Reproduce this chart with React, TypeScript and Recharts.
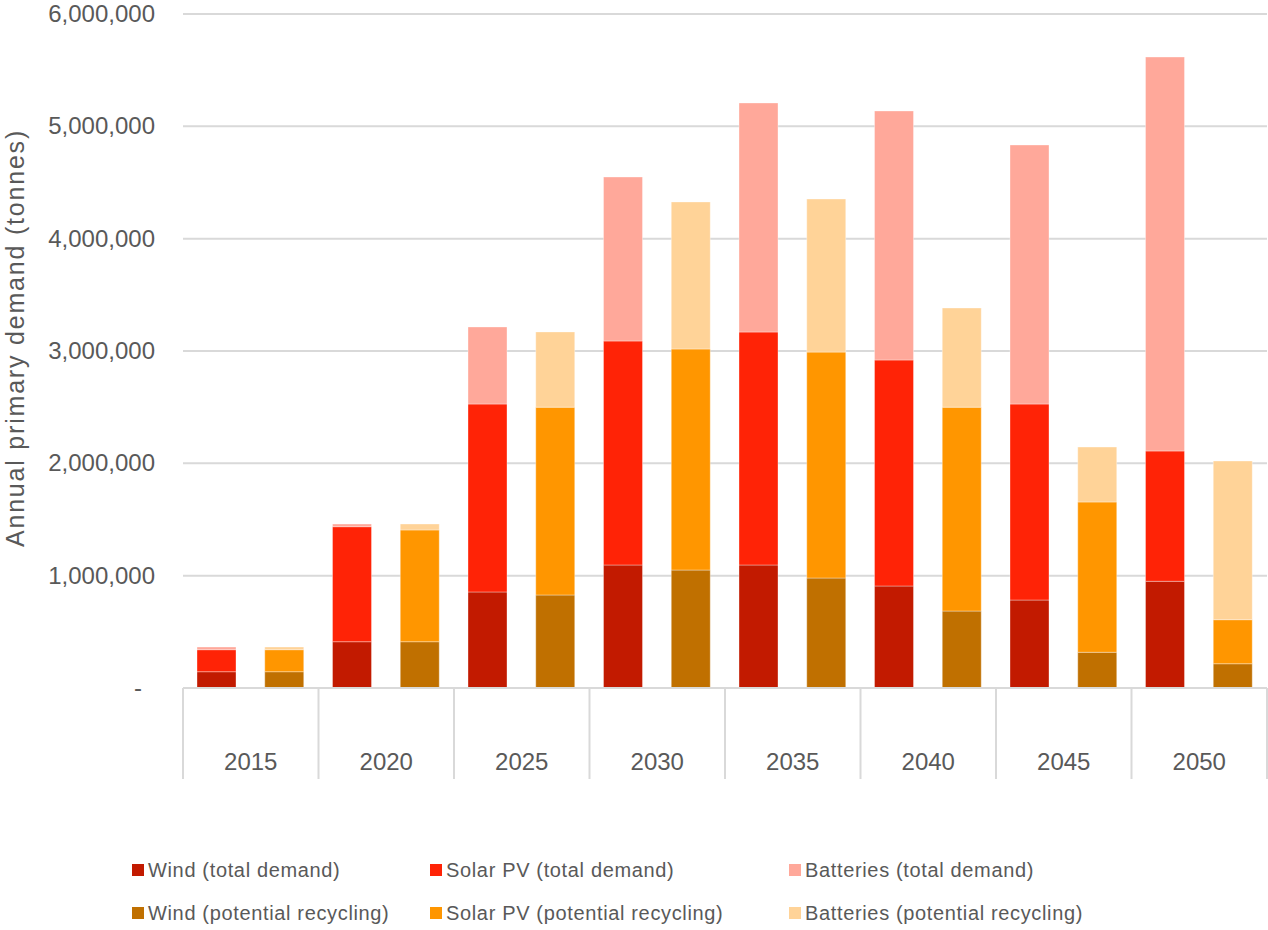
import React from 'react';
import { BarChart, Bar, XAxis, YAxis, CartesianGrid, Legend } from 'recharts';

const years = ['2015', '2020', '2025', '2030', '2035', '2040', '2045', '2050'];

// total demand (tonnes)
const windTotal = [145000, 412000, 855000, 1095000, 1095000, 908000, 783000, 950000];
const solarTotal = [196000, 1024000, 1673000, 1994000, 2074000, 2012000, 1745000, 1160000];
const batteriesTotal = [24000, 24000, 686000, 1460000, 2039000, 2217000, 2306000, 3507000];

// potential recycling (tonnes)
const windRecycling = [145000, 412000, 828000, 1050000, 979000, 685000, 318000, 216000];
const solarRecycling = [196000, 995000, 1672000, 1968000, 2011000, 1815000, 1338000, 392000];
const batteriesRecycling = [24000, 53000, 670000, 1309000, 1363000, 883000, 489000, 1413000];

const yTicks = [0, 1000000, 2000000, 3000000, 4000000, 5000000, 6000000];

const TEXT = '#595959';
const GRID = '#d9d9d9';
const FONT = '"Liberation Sans", Arial, sans-serif';

const CHART_W = 1268;
const CHART_H = 930;
const Y_AXIS_W = 183;
const MARGIN = { top: 14, right: 1, left: 0, bottom: 147 };
const SLOT = (CHART_W - Y_AXIS_W - MARGIN.right - MARGIN.left) / (years.length * 2);

const data = years.flatMap((year, i) => [
  { key: `${year} total`, year, windT: windTotal[i], solarT: solarTotal[i], battT: batteriesTotal[i] },
  { key: `${year} recycling`, year, windR: windRecycling[i], solarR: solarRecycling[i], battR: batteriesRecycling[i] },
]);

const series = [
  { key: 'windT', name: 'Wind (total demand)', color: '#c21a00' },
  { key: 'solarT', name: 'Solar PV (total demand)', color: '#ff2306' },
  { key: 'battT', name: 'Batteries (total demand)', color: '#ffa89a' },
  { key: 'windR', name: 'Wind (potential recycling)', color: '#c07000' },
  { key: 'solarR', name: 'Solar PV (potential recycling)', color: '#ff9600' },
  { key: 'battR', name: 'Batteries (potential recycling)', color: '#ffd398' },
];

const YTick = (props: any) => {
  const { x, y, payload } = props;
  const v = payload.value as number;
  if (v === 0) {
    return (
      <text x={x - 13} y={y} dy={8} textAnchor="end" fill={TEXT} fontSize={24} fontFamily={FONT}>-</text>
    );
  }
  return (
    <text x={x} y={y} dy={8} textAnchor="end" fill={TEXT} fontSize={24} fontFamily={FONT}>
      {v.toLocaleString('en-US')}
    </text>
  );
};

const XTick = (props: any) => {
  const { x, y, payload } = props;
  const idx = payload.index ?? props.index;
  if (idx % 2 !== 0) {
    if (idx === data.length - 1) {
      return <line x1={x + SLOT / 2} x2={x + SLOT / 2} y1={y} y2={y + 91} stroke={GRID} strokeWidth={2} />;
    }
    return <g />;
  }
  const row = data[idx];
  return (
    <g>
      <line x1={x - SLOT / 2} x2={x - SLOT / 2} y1={y} y2={y + 91} stroke={GRID} strokeWidth={2} />
      <text x={x + SLOT / 2} y={y + 82} textAnchor="middle" fill={TEXT} fontSize={24} fontFamily={FONT}>
        {row.year}
      </text>
    </g>
  );
};

const YTitle = () => (
  <text
    x={24}
    y={338}
    transform="rotate(-90, 24, 338)"
    textAnchor="middle"
    fill={TEXT}
    fontSize={25}
    letterSpacing={1.8}
    fontFamily={FONT}
  >
    Annual primary demand (tonnes)
  </text>
);

const LegendContent = () => (
  <div
    style={{
      display: 'grid',
      gridTemplateColumns: '298px 359px 360px',
      rowGap: 19,
      fontFamily: FONT,
      fontSize: 20,
      letterSpacing: 0.65,
      color: TEXT,
    }}
  >
    {series.map((s) => (
      <div key={s.key} style={{ display: 'flex', alignItems: 'center', height: 24, whiteSpace: 'nowrap' }}>
        <span style={{ width: 12, height: 12, background: s.color, marginRight: 4, display: 'inline-block' }} />
        <span>{s.name}</span>
      </div>
    ))}
  </div>
);

export default function App() {
  return (
    <div style={{ width: CHART_W, height: CHART_H, background: '#fff', position: 'relative' }}>
      <style>{`body{margin:0}`}</style>
      <BarChart width={CHART_W} height={CHART_H} data={data} margin={MARGIN}>
        <CartesianGrid vertical={false} stroke={GRID} strokeWidth={2} />
        <XAxis
          dataKey="key"
          interval={0}
          tickLine={false}
          tickSize={0}
          tickMargin={0}
          height={95}
          axisLine={{ stroke: GRID, strokeWidth: 2 }}
          tick={<XTick />}
        />
        <YAxis
          width={Y_AXIS_W}
          domain={[0, 6000000]}
          ticks={yTicks}
          axisLine={false}
          tickLine={false}
          tickSize={0}
          tickMargin={28}
          tick={<YTick />}
          label={{ content: () => <YTitle /> }}
        />
        <Legend
          layout="vertical"
          align="center"
          verticalAlign="middle"
          content={<LegendContent />}
          wrapperStyle={{ position: 'absolute', left: 132, top: 858, width: 1100, height: 70 }}
        />
        {series.map((s) => (
          <Bar
            key={s.key}
            dataKey={s.key}
            name={s.name}
            stackId="a"
            fill={s.color}
            stroke="#ffffff"
            strokeOpacity={0.35}
            strokeWidth={1}
            barSize={39}
            isAnimationActive={false}
          />
        ))}
      </BarChart>
    </div>
  );
}
